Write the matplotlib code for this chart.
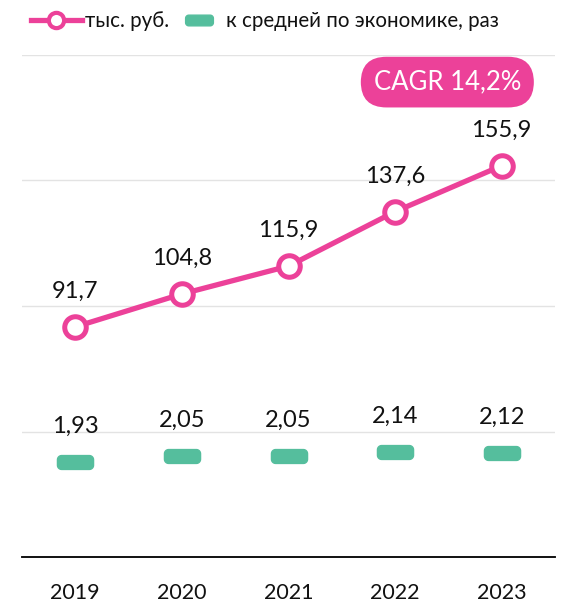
import matplotlib
matplotlib.use("Agg")
import matplotlib.pyplot as plt
import numpy as np
from matplotlib.path import Path
from matplotlib.lines import Line2D

years = ["2019", "2020", "2021", "2022", "2023"]
salary = [91.7, 104.8, 115.9, 137.6, 155.9]
ratio = [1.93, 2.05, 2.05, 2.14, 2.12]
salary_labels = ["91,7", "104,8", "115,9", "137,6", "155,9"]
ratio_labels = ["1,93", "2,05", "2,05", "2,14", "2,12"]
cagr_text = "CAGR 14,2%"
legend_labels = ["тыс. руб.", "к средней по экономике, раз"]

PINK = "#EC4199"
GREEN = "#55BE9D"
plt.rcParams['font.family'] = ['Lato', 'DejaVu Sans']

# rounded rectangle marker path
def rounded_rect(w=2.6, h=1.0, r=0.3, n=8):
    pts = []
    corners = [(w/2 - r, h/2 - r, 0), (-w/2 + r, h/2 - r, 90),
               (-w/2 + r, -h/2 + r, 180), (w/2 - r, -h/2 + r, 270)]
    for cx, cy, a0 in corners:
        for t in np.linspace(a0, a0 + 90, n):
            pts.append((cx + r*np.cos(np.radians(t)), cy + r*np.sin(np.radians(t))))
    pts.append(pts[0])
    return Path(pts, closed=True)

rr = rounded_rect()

fig = plt.figure(figsize=(5.81, 6.04), dpi=100)
ax = fig.add_axes([22/581, 47/604, 533/581, 502/604])
ax2 = ax.twinx()

x = np.arange(len(years))
ax.plot(x, salary, color=PINK, lw=3.8, marker='o', ms=15.5, mfc='white',
        mec=PINK, mew=3.6, zorder=5, solid_capstyle='round')
for xi, v, t in zip(x, salary, salary_labels):
    ax.annotate(t, (xi, v), xytext=(0, 18), textcoords='offset points',
                ha='center', va='bottom', fontsize=17, color='#111111')

ax2.plot(x, ratio, ls='none', marker=rr, ms=26, color=GREEN, mec=GREEN, zorder=5)
for xi, v, t in zip(x, ratio, ratio_labels):
    ax2.annotate(t, (xi, v), xytext=(0, 18), textcoords='offset points',
                 ha='center', va='bottom', fontsize=17, color='#111111')

ax.set_xlim(-0.5, 4.5)
ax.set_ylim(0, 200)
ax2.set_ylim(0, 10.2)
ax.set_yticks([50, 100, 150, 200])
ax.yaxis.grid(True, color='#E3E3E3', lw=1)
ax.set_axisbelow(True)
ax.tick_params(axis='y', left=False, labelleft=False)
ax2.tick_params(axis='y', right=False, labelright=False)
ax.set_xticks(x)
ax.set_xticklabels(years, fontsize=15.5, color='#111111')
ax.tick_params(axis='x', length=0, pad=19)
for a in (ax, ax2):
    for s in ['top', 'right', 'left']:
        a.spines[s].set_visible(False)
    a.spines['bottom'].set_color('#111111')
    a.spines['bottom'].set_linewidth(1.2)

# CAGR box
ax.text(3.49, 189.2, cagr_text, ha='center', va='center', fontsize=18.5, color='white',
        bbox=dict(boxstyle='round,pad=0.5,rounding_size=1.0', fc=PINK, ec='none'), zorder=6)

h1 = Line2D([], [], color=PINK, lw=3.8, marker='o', ms=11, mfc='white', mec=PINK, mew=3)
h2 = Line2D([], [], ls='none', marker=rr, ms=20, color=GREEN)
leg1 = fig.legend([h1], [legend_labels[0]], loc='upper left', bbox_to_anchor=(0.022, 1.012),
                  frameon=False, fontsize=14.8, handlelength=2.45, handletextpad=0.15,
                  labelcolor='#111111')
leg2 = fig.legend([h2], [legend_labels[1]], loc='upper left', bbox_to_anchor=(0.283, 1.012),
                  frameon=False, fontsize=14.8, handlelength=1.6, handletextpad=0.5,
                  labelcolor='#111111')

fig.savefig("out.png", dpi=100)
